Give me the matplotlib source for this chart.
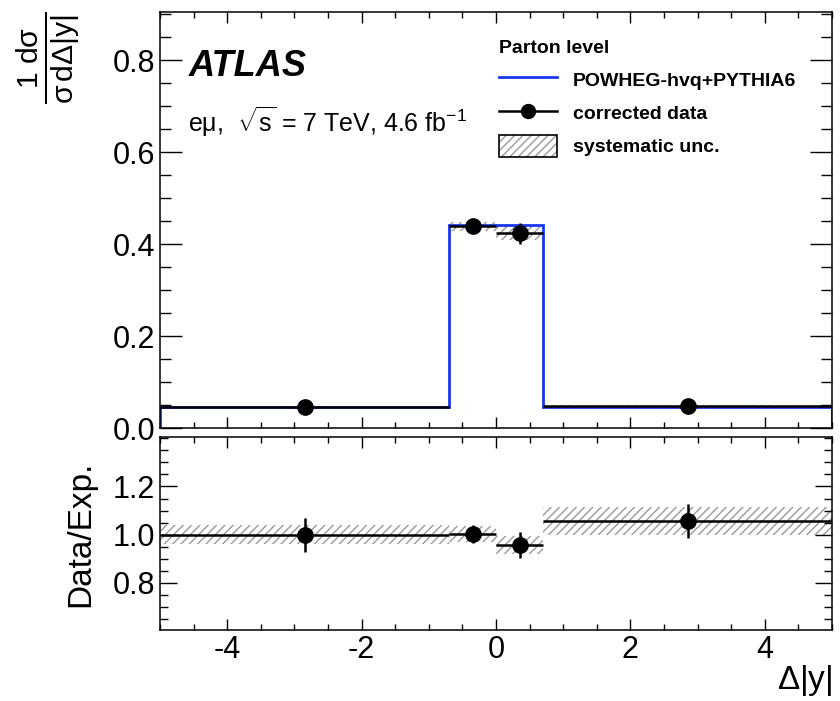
import matplotlib
matplotlib.use("Agg")
import matplotlib.pyplot as plt
import numpy as np
from matplotlib.lines import Line2D
from matplotlib.patches import Patch
from matplotlib.ticker import MultipleLocator

plt.rcParams['font.family'] = ['Liberation Sans', 'DejaVu Sans']
plt.rcParams['mathtext.fontset'] = 'custom'
plt.rcParams['mathtext.rm'] = 'Liberation Sans'
plt.rcParams['mathtext.it'] = 'Liberation Sans'
plt.rcParams['mathtext.bf'] = 'Liberation Sans:bold'
plt.rcParams['hatch.linewidth'] = 1.0

# bins in delta|y|
edges = [-5.0, -0.7, 0.0, 0.7, 5.0]
mc_powheg = [0.046, 0.442, 0.442, 0.046]
data_vals = [0.0455, 0.439, 0.424, 0.048]
data_stat = [0.002, 0.006, 0.023, 0.002]
data_sys = [0.002, 0.010, 0.016, 0.003]
ratio_vals = [1.0, 1.003, 0.958, 1.058]
ratio_stat = [0.07, 0.037, 0.055, 0.07]
ratio_sys = [0.039, 0.035, 0.038, 0.058]

edges = np.array(edges)
centers = 0.5 * (edges[1:] + edges[:-1])
widths = edges[1:] - edges[:-1]
blue = '#1838f0'
hatch_col = '#9a9a9a'

fig = plt.figure(figsize=(8.4, 7.01), dpi=100)
ax = fig.add_axes([0.1905, 0.3894, 0.8, 0.5936])
rx = fig.add_axes([0.1905, 0.1013, 0.8, 0.2753])


def style_axis(a, ymaj, ymin):
	for s in a.spines.values():
		s.set_linewidth(1.1)
	a.tick_params(which='both', direction='in', top=True, right=True, width=1.0, labelsize=22)
	a.tick_params(axis='x', which='major', length=8)
	a.tick_params(axis='x', which='minor', length=4)
	a.tick_params(axis='y', which='major', length=ymaj)
	a.tick_params(axis='y', which='minor', length=ymin)
	a.xaxis.set_major_locator(MultipleLocator(2))
	a.xaxis.set_minor_locator(MultipleLocator(0.5))
	a.set_xlim(-5, 5)


# main panel
ax.bar(centers, 2 * np.array(data_sys), width=widths, bottom=np.array(data_vals) - np.array(data_sys),
	facecolor='none', edgecolor=hatch_col, hatch='////', linewidth=0, zorder=1)
ax.stairs(mc_powheg, edges, color=blue, linewidth=2.0, zorder=2)
ax.errorbar(centers, data_vals, xerr=widths / 2, yerr=data_stat, fmt='o', color='black',
	markersize=11, elinewidth=1.8, capsize=0, zorder=3)
style_axis(ax, 16, 8)
ax.set_ylim(0, 0.905)
ax.yaxis.set_minor_locator(MultipleLocator(0.05))
ax.set_yticks([0.0, 0.2, 0.4, 0.6, 0.8])
ax.set_yticklabels(['0.0', '0.2', '0.4', '0.6', '0.8'])
ax.tick_params(labelbottom=False)
ax.set_ylabel(r'$\frac{1\ \mathrm{d}\sigma}{\sigma\,\mathrm{d}\Delta|y|}$', fontsize=31, loc='top', labelpad=22)

ax.text(0.042, 0.87, 'ATLAS', transform=ax.transAxes, fontsize=26, fontweight='bold', style='italic', va='center')
ax.text(0.042, 0.735, r'e$\mu$,  $\sqrt{s}$ = 7 TeV, 4.6 fb$^{-1}$', transform=ax.transAxes, fontsize=18, va='center')

handles = [Line2D([], [], color=blue, linewidth=2),
	Line2D([], [], color='black', marker='o', markersize=10, linewidth=1.8),
	(Patch(facecolor='white', edgecolor=hatch_col, hatch='////', linewidth=0),
	Patch(facecolor='none', edgecolor='black', linewidth=1.2))]
labels = ['POWHEG-hvq+PYTHIA6', 'corrected data', 'systematic unc.']
leg = ax.legend(handles, labels, title='Parton level', loc='upper left', bbox_to_anchor=(0.478, 0.975),
	frameon=False, prop={'weight': 'bold', 'size': 14}, handlelength=3.0, handleheight=1.3,
	handletextpad=0.8, labelspacing=0.62, alignment='left')
leg.get_title().set_fontweight('bold')
leg.get_title().set_fontsize(14)

# ratio panel
rx.bar(centers, 2 * np.array(ratio_sys), width=widths, bottom=np.array(ratio_vals) - np.array(ratio_sys),
	facecolor='none', edgecolor=hatch_col, hatch='////', linewidth=0, zorder=1)
rx.errorbar(centers, ratio_vals, xerr=widths / 2, yerr=ratio_stat, fmt='o', color='black',
	markersize=11, elinewidth=1.8, capsize=0, zorder=3)
style_axis(rx, 12, 6)
rx.set_ylim(0.605, 1.405)
rx.set_yticks([0.8, 1.0, 1.2])
rx.set_yticklabels(['0.8', '1.0', '1.2'])
rx.yaxis.set_minor_locator(MultipleLocator(0.05))
rx.set_xticks([-4, -2, 0, 2, 4])
rx.set_xticklabels(['-4', '-2', '0', '2', '4'])
rx.set_ylabel('Data/Exp.', fontsize=24, labelpad=12)
rx.set_xlabel(r'$\Delta|y|$', fontsize=24, loc='right', labelpad=-1)

fig.savefig('out.png', dpi=100)
